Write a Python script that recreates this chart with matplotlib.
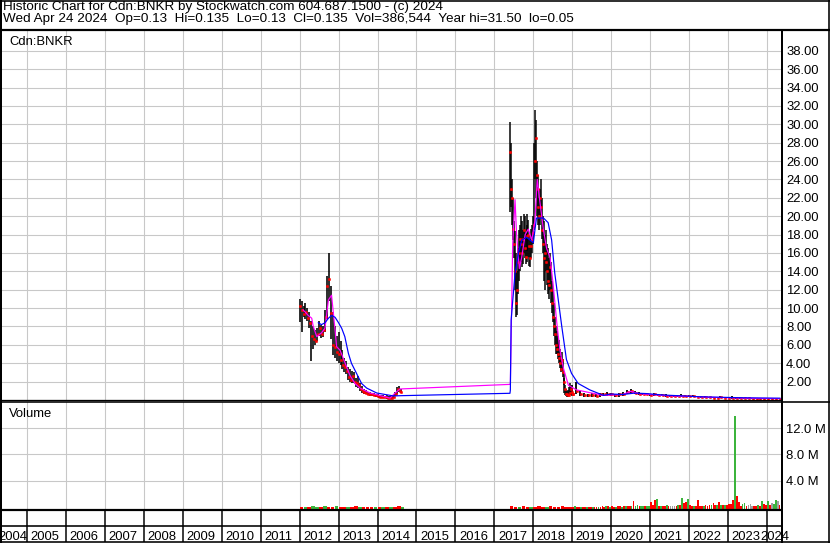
import numpy as np
import matplotlib
matplotlib.use("Agg")
import matplotlib.pyplot as plt

plt.rcParams['font.family'] = ['Liberation Sans', 'DejaVu Sans']

W, H = 830, 543

title_line1 = "Historic Chart for Cdn:BNKR by Stockwatch.com 604.687.1500 - (c) 2024"
title_line2 = ("Wed Apr 24 2024  Op=0.13  Hi=0.135  Lo=0.13  Cl=0.135  "
               "Vol=386,544  Year hi=31.50  lo=0.05")
symbol = "Cdn:BNKR"

years = list(range(2004, 2025))
price_ticks = list(range(2, 40, 2))
vol_ticks = [4, 8, 12]
vol_tick_labels = ["4.0 M", "8.0 M", "12.0 M"]

# ---- price bars: segment 1 (2012.0, every 0.05 yr)
seg1_start, seg1_step = 2012.0, 0.05
seg1_high = [11.0, 10.8, 10.2, 10.6, 10.0, 9.6, 8.6, 8.0, 7.6, 7.8,
             8.6, 8.2, 8.0, 9.8, 13.5, 16.0, 12.4, 9.6, 8.0, 7.0,
             7.4, 6.4, 5.4, 4.6, 4.2, 3.6, 3.4, 3.2, 3.0, 2.4,
             2.6, 1.8, 1.5, 1.2, 1.1, 0.9, 0.9, 0.8, 0.8, 0.7,
             0.7, 0.55, 0.5, 0.5, 0.45, 0.5, 0.45, 0.4, 0.5, 0.9,
             1.4, 1.5, 1.2]
seg1_low = [8.5, 7.4, 9.0, 8.8, 8.6, 7.8, 4.2, 5.6, 6.0, 6.4,
            7.0, 6.8, 6.9, 7.4, 8.8, 10.8, 6.6, 4.9, 4.6, 4.2,
            4.0, 3.8, 3.4, 3.0, 2.8, 2.2, 2.0, 1.9, 1.8, 1.4,
            1.3, 1.0, 0.8, 0.7, 0.6, 0.5, 0.4, 0.4, 0.4, 0.35,
            0.3, 0.25, 0.2, 0.2, 0.2, 0.15, 0.15, 0.15, 0.2, 0.4,
            0.6, 0.9, 0.8]
seg1_close = [10.2, 9.8, 9.4, 9.6, 8.9, 8.4, 7.0, 6.6, 6.4, 7.2,
              7.8, 7.2, 7.6, 9.0, 12.4, 13.2, 9.5, 6.0, 5.8, 5.2,
              5.0, 4.4, 3.8, 3.6, 3.2, 2.5, 2.2, 2.6, 2.0, 1.8,
              1.6, 1.2, 1.0, 0.9, 0.8, 0.7, 0.6, 0.6, 0.5, 0.5,
              0.4, 0.35, 0.3, 0.3, 0.3, 0.25, 0.25, 0.2, 0.3, 0.7,
              1.2, 1.0, 0.9]

# ---- segment 2 (2017.4, every 0.025 yr)
seg2_start, seg2_step = 2017.40, 0.025
seg2_high = [30.2, 28.0, 24.0, 22.0, 19.5, 18.4, 16.0, 14.0, 16.5, 18.5,
             19.0, 20.0, 19.5, 18.5, 20.2, 20.0, 18.2, 19.0, 20.2, 19.6,
             18.0, 17.5, 18.6, 19.0, 20.0, 28.0, 31.5, 30.5, 26.0, 24.5,
             22.0, 23.0, 24.0, 22.0, 20.0, 19.5, 18.0, 18.5, 17.0, 16.5,
             15.5, 16.0, 15.0, 13.0, 12.0, 10.5, 9.0, 8.0, 7.5, 7.0,
             6.5, 5.5, 4.8, 5.2, 4.5, 3.2, 2.4, 1.6, 1.2, 1.0,
             1.1, 1.4, 1.8, 1.5, 1.2]
seg2_low = [20.5, 21.0, 19.0, 17.4, 15.5, 12.0, 9.0, 9.2, 11.5, 13.0,
            14.0, 15.0, 14.5, 14.8, 16.0, 15.5, 14.8, 15.0, 16.2, 15.6,
            14.6, 14.5, 15.5, 16.0, 17.0, 18.5, 24.0, 22.0, 20.0, 19.0,
            18.5, 19.0, 20.0, 17.5, 16.0, 13.0, 12.0, 14.0, 12.5, 11.5,
            11.0, 12.0, 10.5, 9.5, 8.5, 7.0, 6.0, 5.0, 5.0, 4.5,
            4.0, 3.5, 3.0, 3.2, 2.5, 1.6, 0.8, 0.5, 0.4, 0.3,
            0.3, 0.4, 0.5, 0.5, 0.4]
seg2_close = [27.0, 23.0, 22.0, 18.6, 17.0, 14.0, 10.5, 12.0, 15.0, 16.0,
              17.5, 17.0, 16.0, 17.5, 18.5, 16.5, 15.6, 17.8, 18.0, 16.8,
              15.4, 16.8, 17.4, 18.2, 19.0, 26.0, 28.5, 24.5, 23.0, 21.0,
              20.0, 22.0, 21.0, 18.5, 17.0, 15.5, 16.0, 15.0, 14.0, 13.0,
              12.5, 14.5, 12.0, 10.5, 9.0, 8.0, 7.2, 6.0, 5.5, 5.0,
              4.6, 4.0, 3.4, 4.4, 3.0, 2.0, 1.2, 0.7, 0.6, 0.5,
              0.5, 0.8, 1.2, 0.9, 0.6]

# ---- segment 3 (2019.0, every 0.1 yr)
seg3_start, seg3_step = 2019.0, 0.1
seg3_high = [1.6, 2.0, 1.0, 0.8, 0.7, 0.8, 0.7, 0.8, 0.8, 0.9,
             0.8, 0.7, 0.8, 0.85, 1.1, 1.2, 1.0, 0.85, 0.8, 0.75,
             0.7, 0.75, 0.7, 0.6, 0.6, 0.55, 0.5, 0.55, 0.6, 0.55,
             0.5, 0.5, 0.45, 0.4, 0.4, 0.35, 0.35, 0.35, 0.4, 0.35,
             0.35, 0.4, 0.3, 0.3, 0.25, 0.25, 0.25, 0.22, 0.22, 0.22,
             0.2, 0.25, 0.2, 0.16]
seg3_low = [0.5, 0.6, 0.4, 0.3, 0.3, 0.3, 0.3, 0.3, 0.4, 0.4,
            0.4, 0.35, 0.3, 0.45, 0.6, 0.7, 0.6, 0.55, 0.5, 0.5,
            0.45, 0.45, 0.4, 0.4, 0.35, 0.35, 0.3, 0.3, 0.3, 0.3,
            0.35, 0.3, 0.3, 0.25, 0.25, 0.2, 0.2, 0.2, 0.2, 0.2,
            0.2, 0.15, 0.15, 0.15, 0.15, 0.12, 0.12, 0.12, 0.1, 0.1,
            0.1, 0.1, 0.1, 0.1]
seg3_close = [0.7, 1.0, 0.6, 0.5, 0.5, 0.5, 0.4, 0.6, 0.7, 0.6,
              0.6, 0.5, 0.7, 0.7, 0.9, 1.0, 0.8, 0.7, 0.65, 0.6,
              0.55, 0.6, 0.5, 0.5, 0.45, 0.45, 0.4, 0.4, 0.4, 0.4,
              0.45, 0.4, 0.35, 0.3, 0.3, 0.3, 0.25, 0.25, 0.3, 0.25,
              0.25, 0.2, 0.2, 0.2, 0.2, 0.18, 0.15, 0.15, 0.15, 0.15,
              0.15, 0.15, 0.14, 0.135]

# ---- moving averages
ma_short_t = [2012.09, 2012.22, 2012.31, 2012.35, 2012.44, 2012.56, 2012.65, 2012.74,
              2012.82, 2012.91, 2012.95, 2013.04, 2013.16, 2013.29, 2013.42, 2013.55,
              2013.81, 2014.32, 2014.45, 2014.58, 2017.40, 2017.41, 2017.47, 2017.53,
              2017.57, 2017.64, 2017.70, 2017.79, 2017.87, 2017.96, 2018.04, 2018.10,
              2018.17, 2018.26, 2018.34, 2018.43, 2018.51, 2018.60, 2018.68, 2018.77,
              2018.90, 2019.11, 2019.45, 2019.80, 2020.00, 2020.30, 2020.50, 2020.70,
              2021.00, 2021.50, 2022.00, 2022.50, 2023.00, 2023.50, 2024.33]
ma_short_v = [9.8, 9.2, 8.9, 8.0, 6.9, 7.3, 7.8, 10.9,
              11.4, 7.6, 5.8, 5.4, 4.1, 2.7, 1.8, 1.3,
              0.76, 0.2, 0.76, 1.2, 1.7, 1.75, 17.0, 21.8,
              18.0, 14.3, 15.5, 18.0, 18.6, 17.4, 19.5, 24.0,
              21.5, 18.5, 16.5, 15.5, 12.5, 8.5, 5.5, 3.5,
              1.6, 1.1, 0.8, 0.5, 0.55, 0.6, 0.95, 0.7,
              0.6, 0.45, 0.4, 0.3, 0.25, 0.2, 0.15]

ma_long_t = [2012.48, 2012.56, 2012.65, 2012.74, 2012.82, 2012.91, 2013.00, 2013.08,
             2013.16, 2013.25, 2013.33, 2013.46, 2013.59, 2013.72, 2013.98, 2014.41,
             2014.60, 2017.40, 2017.41, 2017.43, 2017.53, 2017.62, 2017.70, 2017.83,
             2018.00, 2018.08, 2018.26, 2018.38, 2018.47, 2018.55, 2018.64, 2018.73,
             2018.85, 2018.98, 2019.15, 2019.45, 2019.80, 2020.00, 2020.30, 2020.60,
             2020.90, 2021.30, 2021.80, 2022.30, 2022.80, 2023.30, 2023.80, 2024.33]
ma_long_v = [8.4, 8.2, 8.4, 8.9, 9.2, 9.0, 8.4, 7.8,
             6.9, 5.1, 4.0, 2.9, 1.8, 1.3, 0.76, 0.44,
             0.47, 0.73, 1.1, 8.7, 13.8, 16.0, 17.4, 17.7,
             17.1, 19.8, 19.8, 19.3, 17.4, 13.8, 10.9, 8.0,
             4.4, 2.9, 1.8, 1.1, 0.5, 0.65, 0.6, 0.75,
             0.7, 0.55, 0.45, 0.35, 0.3, 0.25, 0.22, 0.2]

# ---- volume (millions), colour codes: r = down, g = up, x = unchanged
vol1_start, vol1_step = 2012.0, 0.1
vol1 = [0.05, 0.03, 0.05, 0.06, 0.03, 0.05, 0.08, 0.05, 0.03, 0.06,
        0.05, 0.05, 0.03, 0.05, 0.06, 0.05, 0.03, 0.05, 0.03, 0.05,
        0.05, 0.03, 0.05, 0.03, 0.05, 0.06, 0.05]
vol1_col = "rgrggrgrrgrrgrrgrrrgrgrgrrg"
vol2_start, vol2_step = 2017.4, 0.1
vol2 = [0.06, 0.05, 0.05, 0.06, 0.05, 0.03, 0.05, 0.06, 0.05, 0.05,
        0.06, 0.05, 0.05, 0.06, 0.05, 0.05]
vol2_col = "rrgrrgrrrgrrrrrr"
vol3_start, vol3_step = 2019.0, 0.05
vol3 = [0.05, 0.08, 0.05, 0.05, 0.03, 0.05, 0.05, 0.03, 0.05, 0.03,
        0.05, 0.05, 0.03, 0.05, 0.05, 0.1, 0.05, 0.1, 0.15, 0.05,
        0.1, 0.05, 0.05, 0.1, 0.15, 0.05, 0.1, 0.15, 0.1, 0.15,
        0.2,
        0.9, 0.2, 0.3, 0.2, 0.15, 0.2, 0.1, 0.15, 0.2, 0.8,
        0.3, 1.0, 1.2, 0.2, 0.15, 0.2, 0.2, 0.25, 0.2, 0.1,
        0.2, 0.15, 0.2, 0.3, 0.25, 1.4, 0.55, 0.8, 1.2, 0.3,
        0.2, 0.2, 0.2, 1.0, 0.2, 0.15, 0.2, 0.25, 0.2, 0.3,
        0.35, 0.55, 0.3, 0.35, 0.8, 0.35, 0.3, 0.25, 0.3, 0.45,
        0.5, 1.0, 13.9, 1.7, 0.8, 0.2, 0.45, 0.55, 0.2, 0.3,
        0.45, 0.2, 0.2, 0.15, 0.3, 0.2, 0.9, 0.4, 0.3, 0.9,
        0.3, 0.55, 0.45, 1.0, 0.9, 0.3]
vol3_col = ("rgrrgrrgrrgrrgrrrgrgrrgrrgrgrrg"
            "rggrggrggr" "rrgrgrrgrx" "xxrgrgrrgr" "rgrrrrgrrr"
            "grrgrgrgrr" "rrgrrrggrx" "xxrrgrgrrg" "rxggxr")

VOL_COLORS = {"r": "#ff0000", "g": "#3cb43c", "x": "#a0a0a0"}
GRID = "#c8c8c8"
PX = 0.72  # one pixel in points at 100 dpi
FS = 9.4
FS_HEAD = 9.7

XMIN, XMAX = 2004.333, 2024.384
P_YMIN, P_YMAX = 0.0, 40.15
V_YMIN, V_YMAX = -0.4, 16.0


def rect(x0, y0, x1, y1):
    return [x0 / W, 1 - y1 / H, (x1 - x0) / W, (y1 - y0) / H]


def seg_x(start, step, vals):
    return start + step * np.arange(len(vals))


fig = plt.figure(figsize=(W / 100, H / 100), dpi=100)

ax_p = fig.add_axes(rect(1, 31, 782, 400))
ax_v = fig.add_axes(rect(1, 402, 782, 509.5), sharex=ax_p)
ax_y = fig.add_axes(rect(1, 510, 782, 542), sharex=ax_p)

for ax in (ax_p, ax_v):
    for s in ax.spines.values():
        s.set_visible(False)
    ax.set_xticks(years[1:])
    ax.tick_params(axis="x", length=0, labelbottom=False)
    ax.yaxis.tick_right()
    ax.tick_params(axis="y", length=0, pad=3.0, labelsize=FS)
    ax.grid(True, color=GRID, lw=1.1 * PX)
    ax.set_axisbelow(True)

ax_p.set_xlim(XMIN, XMAX)
ax_p.set_ylim(P_YMIN, P_YMAX)
ax_p.set_yticks(price_ticks)
ax_p.set_yticklabels([f"{t:.2f}" for t in price_ticks])
ax_v.set_ylim(V_YMIN, V_YMAX)
ax_v.set_yticks(vol_ticks)
ax_v.set_yticklabels(vol_tick_labels)

# price bars
segs = [(seg1_start, seg1_step, seg1_high, seg1_low, seg1_close, 1.6),
        (seg2_start, seg2_step, seg2_high, seg2_low, seg2_close, 1.5),
        (seg3_start, seg3_step, seg3_high, seg3_low, seg3_close, 1.8)]
for start, step, hi, lo, cl, lw in segs:
    x = seg_x(start, step, hi)
    ax_p.vlines(x, lo, hi, color="black", lw=lw * PX, zorder=2)
    ax_p.plot(x + step * 0.3, cl, ls="none", marker="s", ms=1.8 * PX,
              mfc="#ff0000", mec="#ff0000", mew=0.5, zorder=3)

ax_p.plot(ma_short_t, ma_short_v, color="#ff00ff", lw=1.2 * PX, zorder=4)
ax_p.plot(ma_long_t, ma_long_v, color="#0000ff", lw=1.2 * PX, zorder=5)

# volume bars
for start, step, v, cols, width in [(vol1_start, vol1_step, vol1, vol1_col, 0.09),
                                    (vol2_start, vol2_step, vol2, vol2_col, 0.09),
                                    (vol3_start, vol3_step, vol3, vol3_col, 0.045)]:
    x = seg_x(start, step, v)
    h = np.array(v) - V_YMIN
    ax_v.bar(x, h, bottom=V_YMIN, width=width, align="edge",
             color=[VOL_COLORS[c] for c in cols], lw=0, zorder=2)

# year strip
ax_y.axis("off")
ax_y.set_ylim(0, 1)
for y in years[1:]:
    ax_y.axvline(y, color="black", lw=1.5 * PX)
for y in years:
    if y == years[0]:
        xt = XMIN - 0.06
    elif y == years[-1]:
        xt = y - 0.17
    else:
        xt = y + 0.09
    ax_y.text(xt, 0.07, str(y), fontsize=FS, ha="left", va="baseline")

# frame and header drawn in pixel space
bg = fig.add_axes([0, 0, 1, 1], zorder=10)
bg.set_xlim(0, W)
bg.set_ylim(H, 0)
bg.axis("off")
bg.patch.set_alpha(0)


def hline(y, x0, x1, lw):
    bg.plot([x0, x1], [y, y], color="black", lw=lw * PX, solid_capstyle="butt")


def vline(x, y0, y1, lw):
    bg.plot([x, x], [y0, y1], color="black", lw=lw * PX, solid_capstyle="butt")


hline(0.8, 0, W, 1.6)
hline(542.2, 0, W, 1.6)
vline(0.8, 0, H, 2.0)
vline(829.2, 0, H, 1.6)
hline(30.0, 0, W, 2.2)
vline(782.0, 30, H, 2.0)
hline(399.6, 0, 782, 1.3)
hline(401.6, 0, W, 1.6)
hline(510.0, 0, 782, 2.2)
hline(526.3, 0, 782, 1.6)

bg.text(3, 10.2, title_line1, fontsize=FS_HEAD, va="baseline", ha="left")
bg.text(3, 21.8, title_line2, fontsize=FS_HEAD, va="baseline", ha="left")
bg.text(9, 45, symbol, fontsize=FS, va="baseline", ha="left")
bg.text(9, 417, "Volume", fontsize=FS, va="baseline", ha="left")

fig.savefig("out.png", dpi=100)
